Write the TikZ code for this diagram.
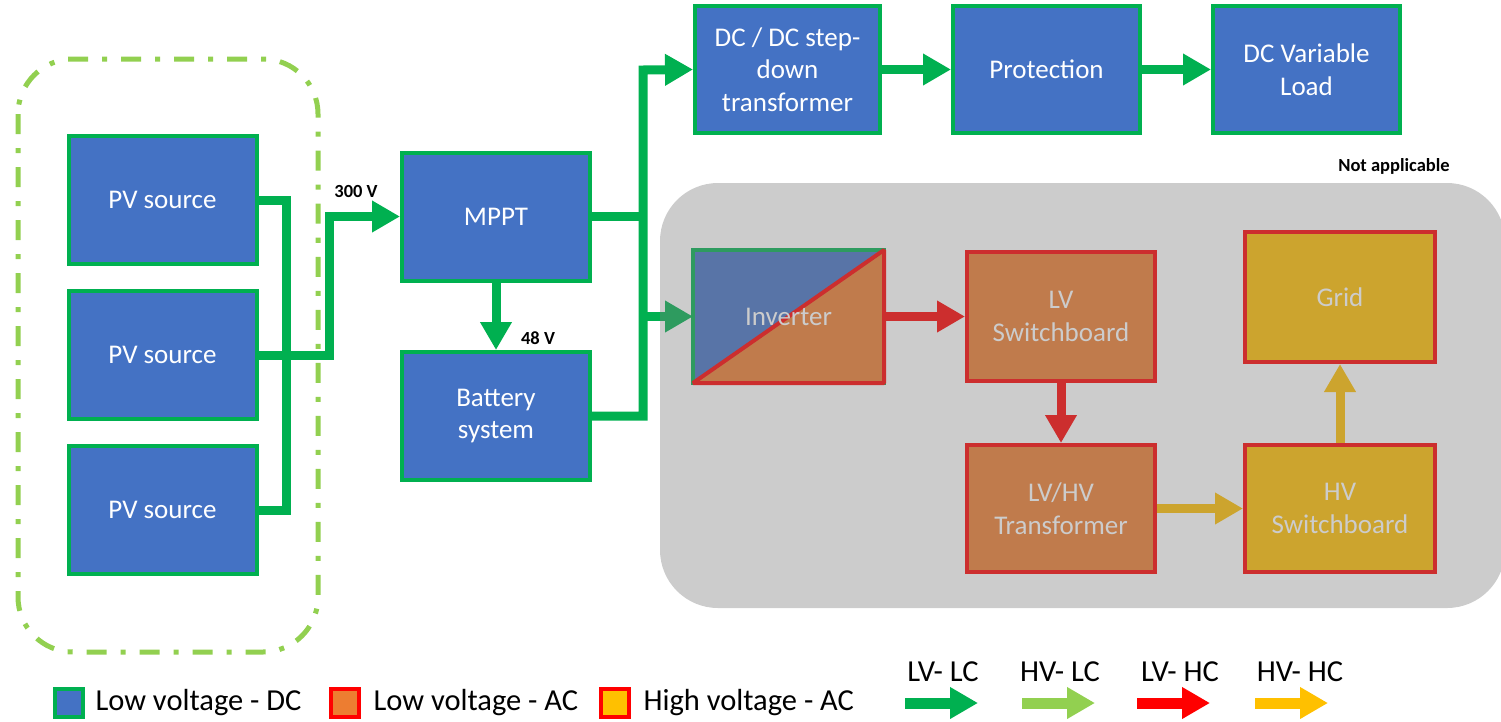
\documentclass[tikz,border=0pt]{standalone}
\usepackage{fontspec}
\setmainfont{Carlito}
\usetikzlibrary{arrows.meta,backgrounds}
\definecolor{dcblue}{HTML}{4472C4}
\definecolor{lvgreen}{HTML}{00B050}
\definecolor{hvgreen}{HTML}{92D050}
\definecolor{acorange}{HTML}{ED7D31}
\definecolor{acred}{HTML}{FF0000}
\definecolor{hvgold}{HTML}{FFC000}
\definecolor{veil}{RGB}{121,121,121}
\tikzset{
  box/.style={draw=lvgreen, fill=dcblue, line width=4pt, minimum width=188pt, minimum height=128pt,
    inner sep=0pt, align=center, text=white, font=\fontsize{27}{32.5}\selectfont},
  acbox/.style={box, draw=acred, fill=acorange},
  hvbox/.style={box, draw=acred, fill=hvgold},
  bus/.style={draw=lvgreen, line width=9pt},
  arr/.style={-{Triangle[length=28pt,width=30pt]}},
  lbl/.style={font=\bfseries\fontsize{18.5}{20}\selectfont, text=black},
  legtxt/.style={font=\fontsize{30.5}{33}\selectfont, text=black, anchor=west},
  legsq/.style={line width=4pt, minimum width=28pt, minimum height=28pt, inner sep=0pt},
  legarr/.style={line width=11pt, -{Triangle[length=28pt,width=30pt]}}
}
\begin{document}
\begin{tikzpicture}[x=1pt,y=-1pt]
\useasboundingbox (0,0) rectangle (1501,721);

% PV group outline
\draw[hvgreen, line width=5pt, rounded corners=55pt, dash pattern=on 20pt off 14pt on 5pt off 14pt]
  (18,59) rectangle (318,652);

% nodes
\node[box] (pv1) at (162.5,200) {PV source};
\node[box] (pv2) at (162.5,355) {PV source};
\node[box] (pv3) at (162.5,510) {PV source};
\node[box] (mppt) at (496,216.5) {MPPT};
\node[box] (bat) at (496,416) {Battery\\system};
\node[box, minimum width=185pt, minimum height=127pt] (dcdc) at (787.5,69.5) {DC / DC step-\\down\\transformer};
\node[box, minimum width=187pt, minimum height=127pt] (prot) at (1046.5,69.5) {Protection};
\node[box, minimum width=187pt, minimum height=127pt] (load) at (1306.5,69.5) {DC Variable\\Load};

\node[box, draw=none, fill=none, minimum width=187pt, minimum height=129pt] (inv) at (788.5,316.5) {Inverter};
\begin{scope}[on background layer]
  \fill[dcblue] (inv.south west) rectangle (inv.north east);
  \draw[lvgreen, line width=4pt] (inv.south west) rectangle (inv.north east);
  \filldraw[fill=acorange, draw=acred, line width=4pt, line join=bevel] (inv.south west) -- (inv.north east) -- (inv.south east) -- cycle;
\end{scope}
\node[acbox, minimum height=129pt] (lvsb) at (1061,316.5) {LV\\Switchboard};
\node[acbox, minimum height=127pt] (lvhv) at (1061,508.5) {LV/HV\\Transformer};
\node[hvbox, minimum width=190pt, minimum height=127pt] (hvsb) at (1340,508.5) {HV\\Switchboard};
\node[hvbox, minimum width=190pt, minimum height=130pt] (grid) at (1340,297) {Grid};

% PV bus
\coordinate (pvbus) at (286.5,200);
\coordinate (riser) at (329,355);
\draw[bus] (pv1.east) -- (pvbus) |- (pv3.east);
\draw[bus, arr] (pv2.east) -- (riser) |- (mppt.west);
\node[lbl] (v300) at (356,191) {300 V};

% MPPT / battery
\draw[bus, arr] (mppt.south) -- (bat.north);
\node[lbl] (v48) at (538,338) {48 V};
\coordinate (jt) at (643,70);
\draw[bus, arr] (bat.east) -| (jt) -- (dcdc.west);
\draw[bus] (mppt.east) -- (mppt.east -| jt);
\draw[bus, arr] (inv.west -| jt) -- (inv.west);

% DC chain
\draw[bus, arr] (dcdc.east) -- (prot.west);
\draw[bus, arr] (prot.east) -- (load.west);

% AC chain
\draw[bus, draw=acred, arr] (inv.east) -- (lvsb.west);
\draw[bus, draw=acred, arr] (lvsb.south) -- (lvhv.north);
\draw[bus, draw=hvgold, arr] (lvhv.east) -- (hvsb.west);
\draw[bus, draw=hvgold, arr] (hvsb.north) -- (grid.south);

% not applicable veil
\fill[veil, fill opacity=0.38, rounded corners=58pt] (660,183) rectangle (1505,608);
\node[lbl] (na) at (1394,166) {Not applicable};

% legend
\node[legsq, draw=lvgreen, fill=dcblue] (sq1) at (69,703) {};
\node[legtxt] (t1) at (92,703) {Low voltage - DC};
\node[legsq, draw=acred, fill=acorange] (sq2) at (345,703) {};
\node[legtxt] (t2) at (370,703) {Low voltage - AC};
\node[legsq, draw=acred, fill=hvgold] (sq3) at (615,703) {};
\node[legtxt] (t3) at (640,703) {High voltage - AC};

\node[legtxt, anchor=center] (k1) at (943,672) {LV- LC};
\node[legtxt, anchor=center] (k2) at (1060,672) {HV- LC};
\node[legtxt, anchor=center] (k3) at (1180,672) {LV- HC};
\node[legtxt, anchor=center] (k4) at (1300,672) {HV- HC};
\coordinate (a1s) at (905,703); \coordinate (a1e) at (978,703);
\coordinate (a2s) at (1022,703); \coordinate (a2e) at (1095,703);
\coordinate (a3s) at (1137,703); \coordinate (a3e) at (1210,703);
\coordinate (a4s) at (1255,703); \coordinate (a4e) at (1328,703);
\draw[legarr, lvgreen] (a1s) -- (a1e);
\draw[legarr, hvgreen] (a2s) -- (a2e);
\draw[legarr, acred] (a3s) -- (a3e);
\draw[legarr, hvgold] (a4s) -- (a4e);
\end{tikzpicture}
\end{document}
